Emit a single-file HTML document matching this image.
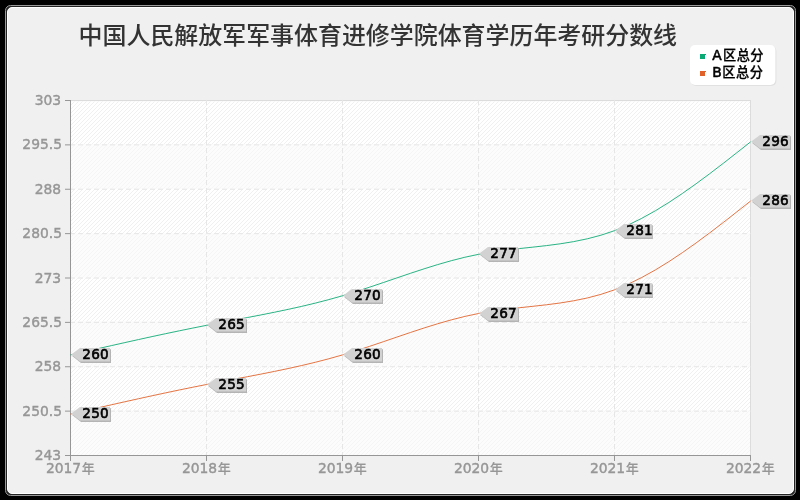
<!DOCTYPE html>
<html lang="zh"><head><meta charset="utf-8"><title>中国人民解放军军事体育进修学院体育学历年考研分数线</title>
<style>html,body{margin:0;padding:0;background:#000;overflow:hidden}svg{display:block}text{font-family:"DejaVu Sans","Liberation Sans","Noto Sans CJK SC",sans-serif}</style></head><body>
<svg width="800" height="500" viewBox="0 0 800 500">
<defs>
<pattern id="hatch" patternUnits="userSpaceOnUse" x="0" y="0" width="4" height="4"><g fill="#f0f0f0" shape-rendering="crispEdges"><rect x="3" y="0" width="1" height="1"/><rect x="2" y="1" width="1" height="1"/><rect x="1" y="2" width="1" height="1"/><rect x="0" y="3" width="1" height="1"/></g></pattern>
</defs>
<rect width="800" height="500" fill="#000"/>
<rect x="5.5" y="5.5" width="790" height="490" rx="5" ry="5" fill="#222" stroke="#999" stroke-width="1"/>
<rect x="7.5" y="7.5" width="786" height="486" rx="4.5" ry="4.5" fill="#f0f0f0" stroke="#fff" stroke-width="1"/>
<text x="78.6" y="44.2" font-size="23.94" font-weight="500" fill="#333">中国人民解放军军事体育进修学院体育学历年考研分数线</text>
<rect x="691" y="46" width="85.4" height="40" rx="5" fill="#e1e1e1"/>
<rect x="690" y="45" width="85.4" height="40" rx="5" fill="#fff"/>
<g shape-rendering="crispEdges"><rect x="700" y="54" width="5" height="5" fill="#0baa74"/><rect x="705" y="54" width="1" height="1" fill="#0baa74"/>
<rect x="700" y="71" width="5" height="5" fill="#e0622a"/><rect x="705" y="71" width="1" height="1" fill="#e0622a"/></g>
<text x="712.3" y="59.7" font-size="13.8" fill="#000" stroke="#000" stroke-width="0.55">A<tspan x="723" dy="0.2" font-size="13.2" letter-spacing="0.5" font-weight="500" stroke-width="0.25">区总分</tspan></text>
<text x="712.3" y="76.7" font-size="13.8" fill="#000" stroke="#000" stroke-width="0.55">B<tspan x="722.3" dy="0.2" font-size="13.2" letter-spacing="0.5" font-weight="500" stroke-width="0.25">区总分</tspan></text>
<g shape-rendering="crispEdges">
<rect x="70" y="100" width="681" height="356" fill="#fff"/>
<rect x="71" y="101" width="679" height="354" fill="url(#hatch)"/>
<rect x="70.5" y="100.5" width="680" height="355" fill="none" stroke="#dcdcdc"/>
<rect x="71" y="410" width="679" height="46" fill="#fafafa" fill-opacity="0.5"/>
<rect x="71" y="321" width="679" height="46" fill="#fafafa" fill-opacity="0.5"/>
<rect x="71" y="233" width="679" height="45" fill="#fafafa" fill-opacity="0.5"/>
<rect x="71" y="144" width="679" height="45" fill="#fafafa" fill-opacity="0.5"/>
<rect x="71" y="101" width="679" height="1" fill="#fafafa" fill-opacity="0.5"/>
</g>
<line x1="70" x2="751" y1="411.125" y2="411.125" stroke="#e6e6e6" stroke-width="1" stroke-dasharray="5 3"/>
<line x1="70" x2="751" y1="366.750" y2="366.750" stroke="#e6e6e6" stroke-width="1" stroke-dasharray="5 3"/>
<line x1="70" x2="751" y1="322.375" y2="322.375" stroke="#e6e6e6" stroke-width="1" stroke-dasharray="5 3"/>
<line x1="70" x2="751" y1="278.000" y2="278.000" stroke="#e6e6e6" stroke-width="1" stroke-dasharray="5 3"/>
<line x1="70" x2="751" y1="233.625" y2="233.625" stroke="#e6e6e6" stroke-width="1" stroke-dasharray="5 3"/>
<line x1="70" x2="751" y1="189.250" y2="189.250" stroke="#e6e6e6" stroke-width="1" stroke-dasharray="5 3"/>
<line x1="70" x2="751" y1="144.875" y2="144.875" stroke="#e6e6e6" stroke-width="1" stroke-dasharray="5 3"/>
<line x1="206.5" x2="206.5" y1="100" y2="456" stroke="#e6e6e6" stroke-width="1" stroke-dasharray="5 3" shape-rendering="crispEdges"/>
<line x1="342.5" x2="342.5" y1="100" y2="456" stroke="#e6e6e6" stroke-width="1" stroke-dasharray="5 3" shape-rendering="crispEdges"/>
<line x1="478.5" x2="478.5" y1="100" y2="456" stroke="#e6e6e6" stroke-width="1" stroke-dasharray="5 3" shape-rendering="crispEdges"/>
<line x1="614.5" x2="614.5" y1="100" y2="456" stroke="#e6e6e6" stroke-width="1" stroke-dasharray="5 3" shape-rendering="crispEdges"/>
<g stroke="#969696" stroke-width="1" shape-rendering="crispEdges">
<line x1="70.5" x2="70.5" y1="100" y2="456"/>
<line x1="70" x2="751" y1="455.5" y2="455.5"/>
<line x1="70.5" x2="70.5" y1="455" y2="461"/>
<line x1="206.5" x2="206.5" y1="455" y2="461"/>
<line x1="342.5" x2="342.5" y1="455" y2="461"/>
<line x1="478.5" x2="478.5" y1="455" y2="461"/>
<line x1="614.5" x2="614.5" y1="455" y2="461"/>
<line x1="750.5" x2="750.5" y1="455" y2="461"/>
</g>
<g stroke="#969696" stroke-width="1">
<line x1="65" x2="71" y1="455.500" y2="455.500"/>
<line x1="65" x2="71" y1="411.125" y2="411.125"/>
<line x1="65" x2="71" y1="366.750" y2="366.750"/>
<line x1="65" x2="71" y1="322.375" y2="322.375"/>
<line x1="65" x2="71" y1="278.000" y2="278.000"/>
<line x1="65" x2="71" y1="233.625" y2="233.625"/>
<line x1="65" x2="71" y1="189.250" y2="189.250"/>
<line x1="65" x2="71" y1="144.875" y2="144.875"/>
<line x1="65" x2="71" y1="100.500" y2="100.500"/>
</g>
<g font-size="13.85" fill="#969696" stroke="#969696" stroke-width="0.4">
<text x="61.1" y="459.60" text-anchor="end">243</text>
<text x="62.0" y="415.60" text-anchor="end">250.5</text>
<text x="61.1" y="370.60" text-anchor="end">258</text>
<text x="62.0" y="326.60" text-anchor="end">265.5</text>
<text x="61.1" y="282.60" text-anchor="end">273</text>
<text x="62.0" y="237.60" text-anchor="end">280.5</text>
<text x="61.1" y="193.60" text-anchor="end">288</text>
<text x="62.0" y="148.60" text-anchor="end">295.5</text>
<text x="61.1" y="104.60" text-anchor="end">303</text>
<text x="70.4" y="473" text-anchor="middle">2017<tspan dx="0.7" dy="-0.4" font-size="13" font-weight="500" stroke-width="0.15">年</tspan></text>
<text x="206.4" y="473" text-anchor="middle">2018<tspan dx="0.7" dy="-0.4" font-size="13" font-weight="500" stroke-width="0.15">年</tspan></text>
<text x="342.4" y="473" text-anchor="middle">2019<tspan dx="0.7" dy="-0.4" font-size="13" font-weight="500" stroke-width="0.15">年</tspan></text>
<text x="478.4" y="473" text-anchor="middle">2020<tspan dx="0.7" dy="-0.4" font-size="13" font-weight="500" stroke-width="0.15">年</tspan></text>
<text x="614.4" y="473" text-anchor="middle">2021<tspan dx="0.7" dy="-0.4" font-size="13" font-weight="500" stroke-width="0.15">年</tspan></text>
<text x="750.4" y="473" text-anchor="middle">2022<tspan dx="0.7" dy="-0.4" font-size="13" font-weight="500" stroke-width="0.15">年</tspan></text>
</g>
<path d="M70.00,354.42 L83.60,351.31 L97.20,348.21 L110.80,345.13 L124.40,342.08 L138.00,339.06 L151.60,336.09 L165.20,333.17 L178.80,330.32 L192.40,327.54 L206.00,324.83 L219.60,322.21 L233.20,319.64 L246.80,317.06 L260.40,314.44 L274.00,311.73 L287.60,308.88 L301.20,305.86 L314.80,302.61 L328.40,299.09 L342.00,295.25 L355.60,291.08 L369.20,286.65 L382.80,282.05 L396.40,277.40 L410.00,272.79 L423.60,268.32 L437.20,264.09 L450.80,260.20 L464.40,256.74 L478.00,253.83 L491.60,251.52 L505.20,249.66 L518.80,248.09 L532.40,246.63 L546.00,245.10 L559.60,243.32 L573.20,241.11 L586.80,238.31 L600.40,234.72 L614.00,230.17 L627.60,224.53 L641.20,217.87 L654.80,210.30 L668.40,201.94 L682.00,192.89 L695.60,183.28 L709.20,173.21 L722.80,162.80 L736.40,152.17 L750.00,141.42" fill="none" stroke="#0baa74" stroke-width="1" stroke-opacity="0.88" transform="translate(0.5,0.5)"/>
<path d="M70.00,413.58 L83.60,410.48 L97.20,407.38 L110.80,404.30 L124.40,401.25 L138.00,398.23 L151.60,395.26 L165.20,392.34 L178.80,389.48 L192.40,386.70 L206.00,384.00 L219.60,381.38 L233.20,378.80 L246.80,376.23 L260.40,373.61 L274.00,370.90 L287.60,368.05 L301.20,365.02 L314.80,361.77 L328.40,358.25 L342.00,354.42 L355.60,350.24 L369.20,345.81 L382.80,341.22 L396.40,336.57 L410.00,331.96 L423.60,327.48 L437.20,323.25 L450.80,319.36 L464.40,315.91 L478.00,313.00 L491.60,310.68 L505.20,308.83 L518.80,307.26 L532.40,305.80 L546.00,304.27 L559.60,302.49 L573.20,300.28 L586.80,297.47 L600.40,293.88 L614.00,289.33 L627.60,283.70 L641.20,277.04 L654.80,269.47 L668.40,261.11 L682.00,252.06 L695.60,242.45 L709.20,232.38 L722.80,221.97 L736.40,211.33 L750.00,200.58" fill="none" stroke="#e0622a" stroke-width="1" stroke-opacity="0.88" transform="translate(0.5,0.5)"/>
<polygon points="72.20,355.90 81.00,349.30 111.00,349.30 111.00,363.00 81.00,363.00" fill="#b4b4b4"/>
<polygon points="71.20,354.50 80.00,347.90 110.00,347.90 110.00,361.60 80.00,361.60" fill="#d2d2d2"/>
<text x="82.30" y="359.00" font-size="13.6" letter-spacing="0.25" fill="#000" stroke="#000" stroke-width="0.6">260</text>
<polygon points="208.20,325.90 217.00,319.30 247.00,319.30 247.00,333.00 217.00,333.00" fill="#b4b4b4"/>
<polygon points="207.20,324.50 216.00,317.90 246.00,317.90 246.00,331.60 216.00,331.60" fill="#d2d2d2"/>
<text x="218.30" y="329.00" font-size="13.6" letter-spacing="0.25" fill="#000" stroke="#000" stroke-width="0.6">265</text>
<polygon points="344.20,296.90 353.00,290.30 383.00,290.30 383.00,304.00 353.00,304.00" fill="#b4b4b4"/>
<polygon points="343.20,295.50 352.00,288.90 382.00,288.90 382.00,302.60 352.00,302.60" fill="#d2d2d2"/>
<text x="354.30" y="300.00" font-size="13.6" letter-spacing="0.25" fill="#000" stroke="#000" stroke-width="0.6">270</text>
<polygon points="480.20,254.90 489.00,248.30 519.00,248.30 519.00,262.00 489.00,262.00" fill="#b4b4b4"/>
<polygon points="479.20,253.50 488.00,246.90 518.00,246.90 518.00,260.60 488.00,260.60" fill="#d2d2d2"/>
<text x="490.30" y="258.00" font-size="13.6" letter-spacing="0.25" fill="#000" stroke="#000" stroke-width="0.6">277</text>
<polygon points="616.20,231.90 625.00,225.30 652.90,225.30 652.90,239.00 625.00,239.00" fill="#b4b4b4"/>
<polygon points="615.20,230.50 624.00,223.90 651.90,223.90 651.90,237.60 624.00,237.60" fill="#d2d2d2"/>
<text x="626.30" y="235.00" font-size="13.6" letter-spacing="0.25" fill="#000" stroke="#000" stroke-width="0.6">281</text>
<polygon points="752.20,142.90 761.00,136.30 791.00,136.30 791.00,150.00 761.00,150.00" fill="#b4b4b4"/>
<polygon points="751.20,141.50 760.00,134.90 790.00,134.90 790.00,148.60 760.00,148.60" fill="#d2d2d2"/>
<text x="762.30" y="146.00" font-size="13.6" letter-spacing="0.25" fill="#000" stroke="#000" stroke-width="0.6">296</text>
<polygon points="72.20,414.90 81.00,408.30 111.00,408.30 111.00,422.00 81.00,422.00" fill="#b4b4b4"/>
<polygon points="71.20,413.50 80.00,406.90 110.00,406.90 110.00,420.60 80.00,420.60" fill="#d2d2d2"/>
<text x="82.30" y="418.00" font-size="13.6" letter-spacing="0.25" fill="#000" stroke="#000" stroke-width="0.6">250</text>
<polygon points="208.20,385.90 217.00,379.30 247.00,379.30 247.00,393.00 217.00,393.00" fill="#b4b4b4"/>
<polygon points="207.20,384.50 216.00,377.90 246.00,377.90 246.00,391.60 216.00,391.60" fill="#d2d2d2"/>
<text x="218.30" y="389.00" font-size="13.6" letter-spacing="0.25" fill="#000" stroke="#000" stroke-width="0.6">255</text>
<polygon points="344.20,355.90 353.00,349.30 383.00,349.30 383.00,363.00 353.00,363.00" fill="#b4b4b4"/>
<polygon points="343.20,354.50 352.00,347.90 382.00,347.90 382.00,361.60 352.00,361.60" fill="#d2d2d2"/>
<text x="354.30" y="359.00" font-size="13.6" letter-spacing="0.25" fill="#000" stroke="#000" stroke-width="0.6">260</text>
<polygon points="480.20,314.90 489.00,308.30 519.00,308.30 519.00,322.00 489.00,322.00" fill="#b4b4b4"/>
<polygon points="479.20,313.50 488.00,306.90 518.00,306.90 518.00,320.60 488.00,320.60" fill="#d2d2d2"/>
<text x="490.30" y="318.00" font-size="13.6" letter-spacing="0.25" fill="#000" stroke="#000" stroke-width="0.6">267</text>
<polygon points="616.20,290.90 625.00,284.30 652.90,284.30 652.90,298.00 625.00,298.00" fill="#b4b4b4"/>
<polygon points="615.20,289.50 624.00,282.90 651.90,282.90 651.90,296.60 624.00,296.60" fill="#d2d2d2"/>
<text x="626.30" y="294.00" font-size="13.6" letter-spacing="0.25" fill="#000" stroke="#000" stroke-width="0.6">271</text>
<polygon points="752.20,201.90 761.00,195.30 791.00,195.30 791.00,209.00 761.00,209.00" fill="#b4b4b4"/>
<polygon points="751.20,200.50 760.00,193.90 790.00,193.90 790.00,207.60 760.00,207.60" fill="#d2d2d2"/>
<text x="762.30" y="205.00" font-size="13.6" letter-spacing="0.25" fill="#000" stroke="#000" stroke-width="0.6">286</text>
</svg></body></html>
